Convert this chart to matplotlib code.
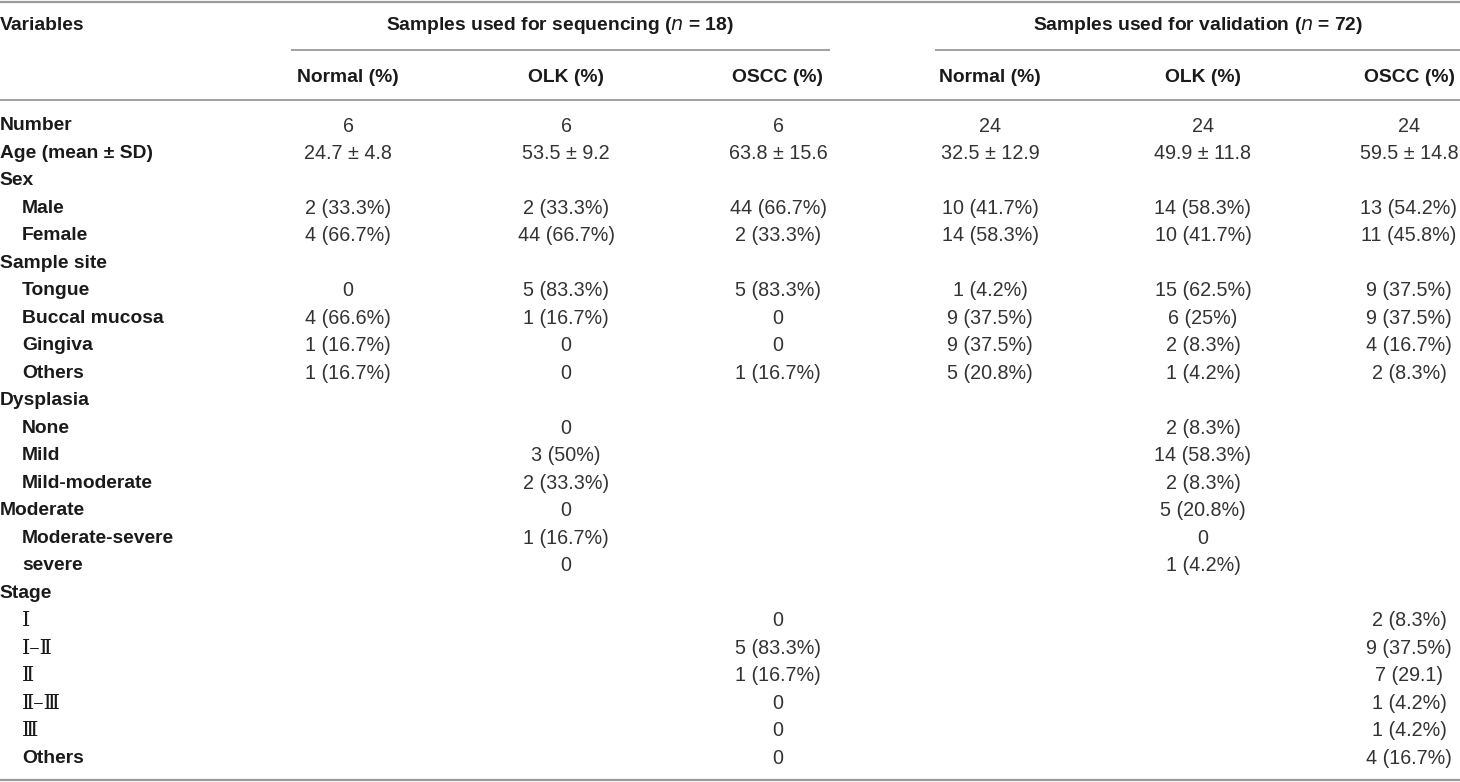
import matplotlib
matplotlib.use("Agg")
import matplotlib.pyplot as plt

# ---------------- data ----------------
row_labels = ["Number", "Age (mean \u00b1 SD)", "Sex", "Male", "Female", "Sample site",
              "Tongue", "Buccal mucosa", "Gingiva", "Others", "Dysplasia", "None", "Mild",
              "Mild-moderate", "Moderate", "Moderate-severe", "severe", "Stage",
              "\u2160", "\u2160\u2013\u2161", "\u2161", "\u2161\u2013\u2162", "\u2162", "Others"]
row_indent = [0, 0, 0, 1, 1, 0, 1, 1, 1, 1, 0, 1, 1, 1, 0, 1, 1, 0, 1, 1, 1, 1, 1, 1]
row_roman = [False] * 18 + [True, True, True, True, True, False]

seq_normal = ["6", "24.7 \u00b1 4.8", "", "2 (33.3%)", "4 (66.7%)", "", "0", "4 (66.6%)",
              "1 (16.7%)", "1 (16.7%)", "", "", "", "", "", "", "", "", "", "", "", "", "", ""]
seq_olk = ["6", "53.5 \u00b1 9.2", "", "2 (33.3%)", "44 (66.7%)", "", "5 (83.3%)", "1 (16.7%)",
           "0", "0", "", "0", "3 (50%)", "2 (33.3%)", "0", "1 (16.7%)", "0", "",
           "", "", "", "", "", ""]
seq_oscc = ["6", "63.8 \u00b1 15.6", "", "44 (66.7%)", "2 (33.3%)", "", "5 (83.3%)", "0",
            "0", "1 (16.7%)", "", "", "", "", "", "", "", "",
            "0", "5 (83.3%)", "1 (16.7%)", "0", "0", "0"]
val_normal = ["24", "32.5 \u00b1 12.9", "", "10 (41.7%)", "14 (58.3%)", "", "1 (4.2%)",
              "9 (37.5%)", "9 (37.5%)", "5 (20.8%)", "", "", "", "", "", "", "", "",
              "", "", "", "", "", ""]
val_olk = ["24", "49.9 \u00b1 11.8", "", "14 (58.3%)", "10 (41.7%)", "", "15 (62.5%)", "6 (25%)",
           "2 (8.3%)", "1 (4.2%)", "", "2 (8.3%)", "14 (58.3%)", "2 (8.3%)", "5 (20.8%)", "0",
           "1 (4.2%)", "", "", "", "", "", "", ""]
val_oscc = ["24", "59.5 \u00b1 14.8", "", "13 (54.2%)", "11 (45.8%)", "", "9 (37.5%)",
            "9 (37.5%)", "4 (16.7%)", "2 (8.3%)", "", "", "", "", "", "", "", "",
            "2 (8.3%)", "9 (37.5%)", "7 (29.1)", "1 (4.2%)", "1 (4.2%)", "4 (16.7%)"]

group_headers = ["Samples used for sequencing (", "Samples used for validation ("]
group_n = ["18", "72"]
col_headers = ["Normal (%)", "OLK (%)", "OSCC (%)", "Normal (%)", "OLK (%)", "OSCC (%)"]
first_header = "Variables"

# ---------------- layout ----------------
W, H = 1460, 782
fig = plt.figure(figsize=(W / 100, H / 100), dpi=100)
ax = fig.add_axes([0, 0, 1, 1])
ax.set_xlim(0, W)
ax.set_ylim(H, 0)
ax.axis("off")

FAM = ["Liberation Sans", "DejaVu Sans"]
BOLD = dict(family=FAM, fontweight="bold", color="#1a1a1a", fontsize=13.9)
REG = dict(family=FAM, fontweight="normal", color="#333333", fontsize=14.2)
ROMAN = dict(family=["DejaVu Serif", "Noto Sans CJK SC"], color="#1a1a1a", fontsize=15)

line_col = "#9a9a9a"
ax.plot([0, W], [1.5, 1.5], color=line_col, lw=1.6, solid_capstyle="butt")
ax.plot([291, 830], [50, 50], color=line_col, lw=1.3, solid_capstyle="butt")
ax.plot([935, W], [50, 50], color=line_col, lw=1.3, solid_capstyle="butt")
ax.plot([0, W], [100, 100], color=line_col, lw=1.3, solid_capstyle="butt")
ax.plot([0, W], [780, 780], color=line_col, lw=1.6, solid_capstyle="butt")

col_x = [348, 566, 778, 990, 1203, 1409]
group_x = [560, 1198]

ax.text(0, 26, first_header, ha="left", va="center", **BOLD)
for gx, gh, gn in zip(group_x, group_headers, group_n):
    ax.text(gx, 26, gh + r"$\mathit{n}$" + " = " + gn + ")", ha="center", va="center", **BOLD)
for cx, ch in zip(col_x[:5], col_headers[:5]):
    ax.text(cx, 77, ch, ha="center", va="center", **BOLD)
ax.text(1455, 77, col_headers[5], ha="right", va="center", **BOLD)

y0, dy = 126, 27.48
cols = [seq_normal, seq_olk, seq_oscc, val_normal, val_olk, val_oscc]
for i, lab in enumerate(row_labels):
    y = y0 + i * dy
    x = 22 if row_indent[i] else 0
    style = ROMAN if row_roman[i] else BOLD
    ax.text(x, y, lab, ha="left", va="center", **style)
    for cx, col in zip(col_x, cols):
        if col[i]:
            ax.text(cx, y, col[i], ha="center", va="center", **REG)

fig.savefig("out.png", dpi=100)
